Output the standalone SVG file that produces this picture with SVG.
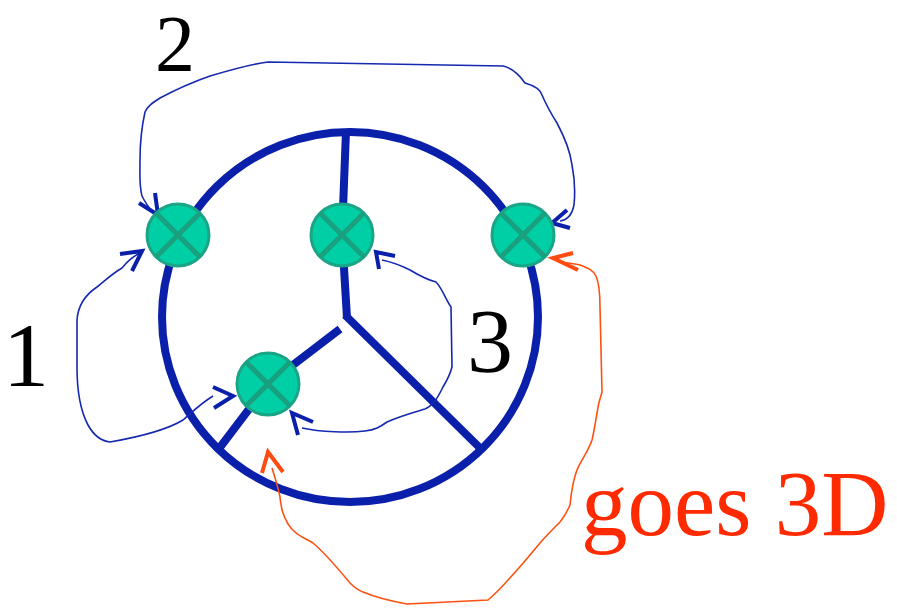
<svg xmlns="http://www.w3.org/2000/svg" width="897" height="610" viewBox="0 0 897 610">
<style>
.wire{fill:none;stroke:#0a1faa;stroke-width:8;stroke-linecap:butt}
.node circle{fill:#00cfa6;stroke:#1ba486;stroke-width:3}
.node path{stroke:#18a07f;stroke-width:5;fill:none}
.conn{fill:none;stroke:#1428b0;stroke-width:1.6;stroke-linejoin:round}
.head{fill:none;stroke:#0a1faa;stroke-width:4;stroke-linecap:butt}
.oconn{fill:none;stroke:#ff5010;stroke-width:1.6;stroke-linejoin:round}
.ohead{fill:none;stroke:#ff4a10;stroke-width:4}
.lbl{font-family:"Liberation Serif","Times New Roman",serif;fill:#000}
.olbl{font-family:"Liberation Serif","Times New Roman",serif;fill:#ff2a00}
</style>
<rect width="897" height="610" fill="#fff"/>
<g id="frame">
<ellipse class="wire" cx="350" cy="317" rx="188" ry="185"/>
<polyline class="wire" points="346,131 342,235 347,318"/>
<line class="wire" x1="345" y1="315" x2="482" y2="450"/>
<polyline class="wire" points="340,329 268,384 218,450"/>
</g>
<g id="connectors">
<path class="conn" d="M213,396 C200,404 190,414 183,420 C170,428 150,435 110,442 C100,441 93,434 88,425 C80,410 77,390 77,367 L77,320 C78,305 85,295 97,287 C104,282 110,275 122,268 C126,263 130,258 140,253"/>
<polyline class="head" points="213,387 233,396 214,408"/>
<polyline class="head" points="120,254 142,251 132,271"/>
<path class="conn" d="M153,212 C148,207 145,202 142,196 C139,185 140,175 140,160 C140,150 141,130 145,112 C148,106 152,103 160,98 C175,90 190,83 210,76 C230,70 250,64 268,62 L503,66 C512,68 520,76 525,83 C532,85 540,88 542,95 C545,102 550,112 557,123 C565,138 570,150 572,165 C575,180 575,195 574,205 C572,215 568,220 560,221"/>
<polyline class="head" points="139,203 158,215 155,193"/>
<polyline class="head" points="567,210 552,223 570,228"/>
<path class="conn" d="M382,260 C392,262 400,265 410,270 C420,276 428,280 436,282 C442,288 446,300 451,307 L452,367 C450,375 446,382 443,387 C438,397 434,405 425,409 C415,412 400,416 387,422 C380,427 375,430 365,431 C350,433 320,432 302,428"/>
<polyline class="head" points="395,256 376,252 379,269"/>
<polyline class="head" points="313,422 292,413 298,435"/>
</g>
<g id="orange-connector">
<path class="oconn" d="M560,262 C568,263 575,264 580,265 C588,268 593,270 596,276 C599,283 600,295 600,307 L602,392 C600,398 598,405 597,413 C595,425 594,432 592,440 C588,452 580,462 577,470 C573,480 571,495 570,505 C567,512 565,516 560,522 C552,530 545,537 540,543 C530,555 522,565 517,570 C508,580 500,590 488,600 L407,604 C390,601 375,597 363,592 C357,590 353,586 350,583 C335,565 325,553 313,543 C307,539 300,537 295,532 C290,528 285,520 282,510 C281,503 280,500 280,497 C278,487 275,478 272,468"/>
<polyline class="ohead" points="573,253 553,258 578,270"/>
<polyline class="ohead" points="262,473 268,452 283,472"/>
</g>
<g id="node1" class="node">
<circle cx="178" cy="235" r="31"/>
<path d="M156,213 L200,257 M200,213 L156,257"/>
</g>
<g id="node2" class="node">
<circle cx="342" cy="235" r="31"/>
<path d="M320,213 L364,257 M364,213 L320,257"/>
</g>
<g id="node3" class="node">
<circle cx="523" cy="235" r="31"/>
<path d="M501,213 L545,257 M545,213 L501,257"/>
</g>
<g id="node4" class="node">
<circle cx="268" cy="384" r="31"/>
<path d="M246,362 L290,406 M290,362 L246,406"/>
</g>
<g id="labels">
<text class="lbl" x="26" y="386" font-size="92" text-anchor="middle">1</text>
<text class="lbl" x="175" y="71" font-size="80" text-anchor="middle">2</text>
<text class="lbl" x="490" y="372" font-size="92" text-anchor="middle">3</text>
<text class="olbl" x="581" y="535" font-size="93">goes 3D</text>
</g>
</svg>
